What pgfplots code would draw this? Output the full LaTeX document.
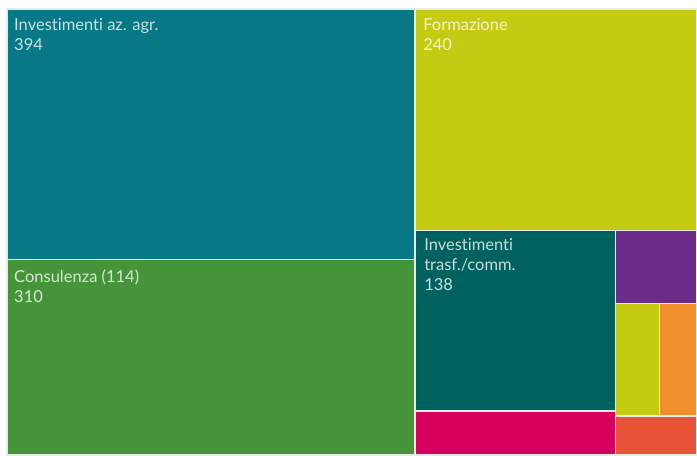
\documentclass[border=0pt]{standalone}
\usepackage{fontspec}
\setmainfont[Ligatures=NoCommon]{Lato}
\usepackage{pgfplots}
\pgfplotsset{compat=1.18}

\definecolor{cTeal}{HTML}{067886}
\definecolor{cGreen}{HTML}{46943A}
\definecolor{cLime}{HTML}{C5CB12}
\definecolor{cDark}{HTML}{00625E}
\definecolor{cPurple}{HTML}{6A2C86}
\definecolor{cOrange}{HTML}{F08F2C}
\definecolor{cRed}{HTML}{E75336}
\definecolor{cMagenta}{HTML}{D8005F}
\definecolor{cLine}{HTML}{E4EEE4}

\tikzset{lab/.style={anchor=north west, align=left, text=white, text opacity=0.78,
    font=\fontsize{12.4}{15}\selectfont, inner sep=0pt}}

\begin{document}
\begin{tikzpicture}
\begin{axis}[
    scale only axis,
    width=522.75pt, height=341.25pt,
    xmin=0, xmax=697, ymin=0, ymax=455,
    y dir=reverse,
    hide axis,
    clip=false,
    every axis plot/.append style={draw=cLine, line width=0.9pt},
]
% background
\addplot[fill=white, draw=none] coordinates {(0,0) (697,0) (697,455) (0,455)} -- cycle;

% Investimenti az. agr. 394
\addplot[fill=cTeal] coordinates {(7,9) (416,9) (416,260) (7,260)} -- cycle;
% Consulenza 310
\addplot[fill=cGreen] coordinates {(7,260) (416,260) (416,456) (7,456)} -- cycle;
% Formazione 240
\addplot[fill=cLime] coordinates {(416,9) (698,9) (698,231) (416,231)} -- cycle;
% Investimenti trasf./comm. 138
\addplot[fill=cDark] coordinates {(416,231) (617,231) (617,412) (416,412)} -- cycle;
% remaining small blocks
\addplot[fill=cMagenta] coordinates {(416,412) (617,412) (617,456) (416,456)} -- cycle;
\addplot[fill=cPurple] coordinates {(617,231) (698,231) (698,304) (617,304)} -- cycle;
\addplot[fill=cLime] coordinates {(617,304) (661,304) (661,417) (617,417)} -- cycle;
\addplot[fill=cOrange] coordinates {(661,304) (698,304) (698,417) (661,417)} -- cycle;
\addplot[fill=cRed] coordinates {(617,417) (698,417) (698,456) (617,456)} -- cycle;

\node[lab] at (axis cs:14,18) {Investimenti az. agr.\\394};
\node[lab] at (axis cs:14,270) {Consulenza (114)\\310};
\node[lab] at (axis cs:424,18) {Formazione\\240};
\node[lab] at (axis cs:425,239) {Investimenti\\trasf./comm.\\138};
\end{axis}
\end{tikzpicture}
\end{document}
